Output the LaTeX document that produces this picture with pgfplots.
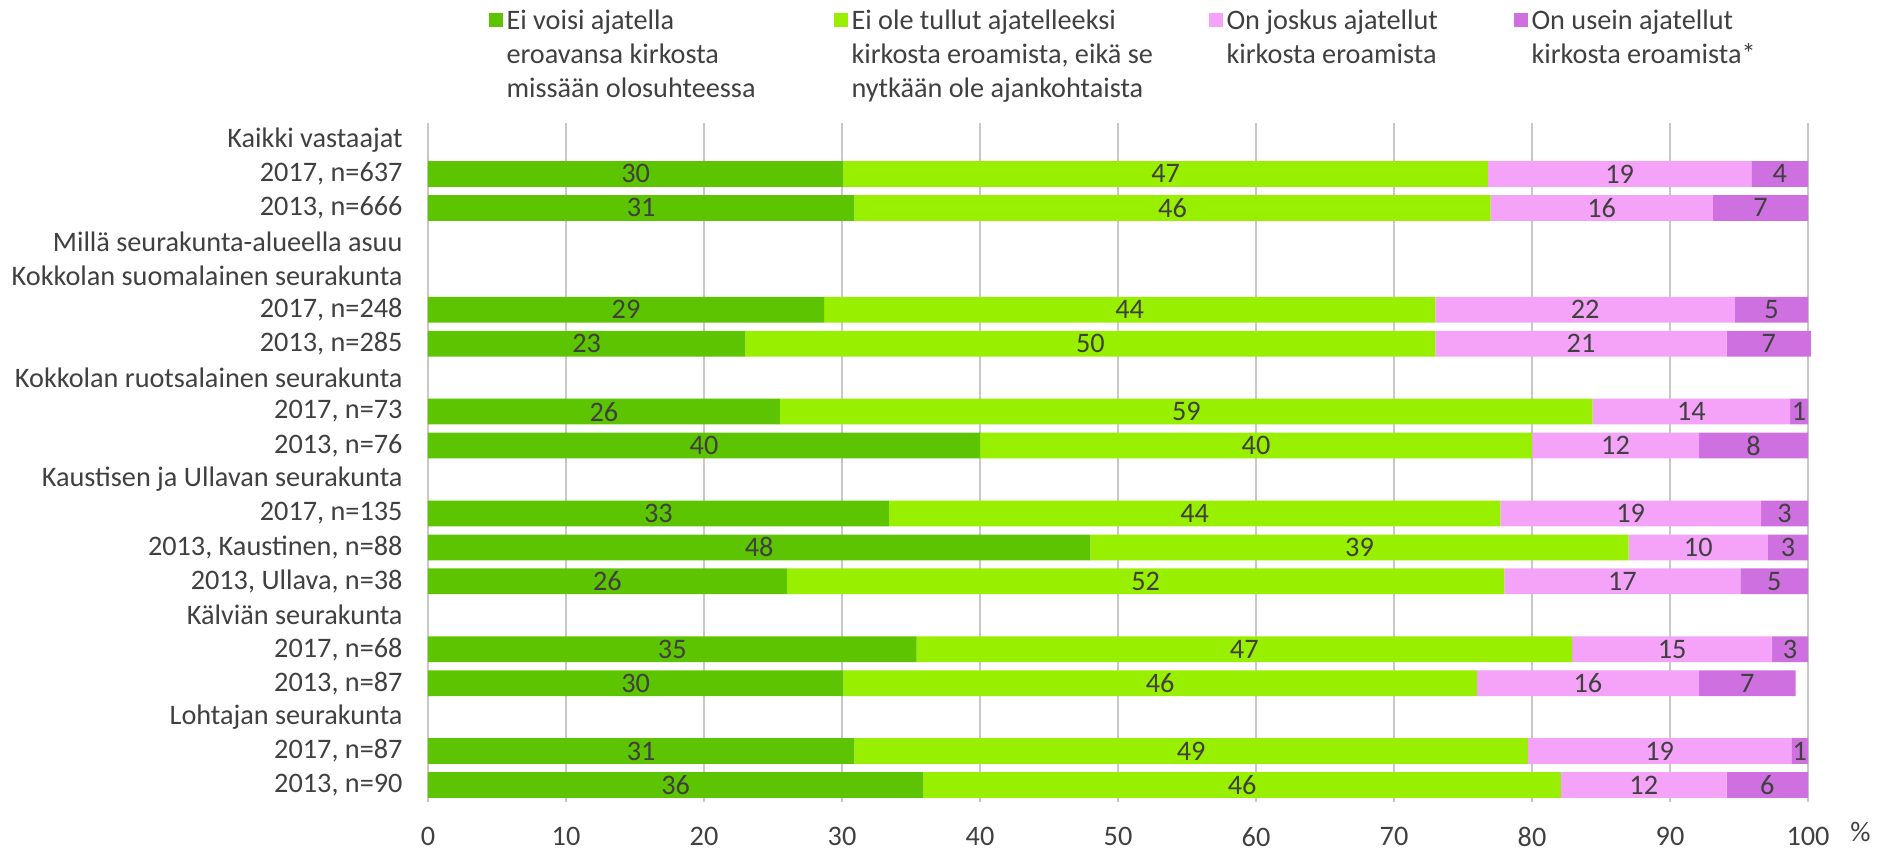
\documentclass[border=0pt]{standalone}
\usepackage{fontspec}
\setmainfont{Carlito}
\usepackage{pgfplots}
\pgfplotsset{compat=1.18}
\definecolor{gA}{HTML}{5CC400}
\definecolor{gB}{HTML}{99EF00}
\definecolor{pA}{HTML}{F4A3F8}
\definecolor{pB}{HTML}{CF70E0}
\definecolor{txt}{HTML}{404040}
\definecolor{gridc}{HTML}{C8C8C8}
\pgfplotsset{frame/.style={
  at={(0,0)}, anchor=south west,
  scale only axis, width=552pt, height=271.6pt,
  xmin=0, xmax=100, ymin=0.5, ymax=20.5, y dir=reverse}}
\begin{document}
\begin{tikzpicture}[font=\fontsize{11.3}{13.6}\selectfont]
\begin{axis}[
  frame,
  xbar stacked, bar width=10.3pt,
  xtick={0,10,...,100}, ytick={1,...,20},
  yticklabels={Kaikki vastaajat, {2017, n=637}, {2013, n=666},
    Millä seurakunta-alueella asuu, Kokkolan suomalainen seurakunta,
    {2017, n=248}, {2013, n=285}, Kokkolan ruotsalainen seurakunta,
    {2017, n=73}, {2013, n=76}, Kaustisen ja Ullavan seurakunta,
    {2017, n=135}, {2013, Kaustinen, n=88}, {2013, Ullava, n=38},
    Kälviän seurakunta, {2017, n=68}, {2013, n=87},
    Lohtajan seurakunta, {2017, n=87}, {2013, n=90}},
  xmajorgrids, major grid style={gridc, line width=0.8pt},
  axis line style={draw=none},
  major tick length=0pt,
  tick label style={text=txt},
  /pgf/number format/assume math mode=true,
  yticklabel style={inner sep=0pt, xshift=-10pt},
  xticklabel style={inner sep=0pt, yshift=-10pt},
  clip=false,
]
\addplot+[fill=gA, draw=none] coordinates {
  (30.1,2) (30.9,3) (28.7,6) (23.0,7) (25.5,9)
  (40.0,10) (33.4,12) (48.0,13) (26.0,14) (35.4,16)
  (30.1,17) (30.9,19) (35.9,20)};
\addplot+[fill=gB, draw=none] coordinates {
  (46.7,2) (46.1,3) (44.3,6) (50.0,7) (58.9,9)
  (40.0,10) (44.3,12) (39.0,13) (52.0,14) (47.5,16)
  (45.9,17) (48.8,19) (46.2,20)};
\addplot+[fill=pA, draw=none] coordinates {
  (19.1,2) (16.1,3) (21.7,6) (21.1,7) (14.3,9)
  (12.1,10) (18.9,12) (10.1,13) (17.1,14) (14.5,16)
  (16.1,17) (19.1,19) (12.0,20)};
\addplot+[fill=pB, draw=none] coordinates {
  (4.1,2) (6.9,3) (5.3,6) (6.1,7) (1.3,9)
  (7.9,10) (3.4,12) (2.9,13) (4.9,14) (2.6,16)
  (7.0,17) (1.2,19) (5.9,20)};
\end{axis}
% data labels, at the middle of each segment
\begin{axis}[frame, hide axis, clip=false]
\addplot[only marks, mark=*, mark size=0pt, mark options={draw=none, fill=none},
  point meta=explicit symbolic, nodes near coords,
  every node near coord/.style={anchor=center, text=txt}] coordinates {
  (15.05,2)[30] (53.45,2)[47] (86.35,2)[19] (97.95,2)[4]
  (15.45,3)[31] (53.95,3)[46] (85.05,3)[16] (96.55,3)[7]
  (14.35,6)[29] (50.85,6)[44] (83.85,6)[22] (97.35,6)[5]
  (11.5,7)[23] (48.0,7)[50] (83.55,7)[21] (97.15,7)[7]
  (12.75,9)[26] (54.95,9)[59] (91.55,9)[14] (99.35,9)[1]
  (20.0,10)[40] (60.0,10)[40] (86.05,10)[12] (96.05,10)[8]
  (16.7,12)[33] (55.55,12)[44] (87.15,12)[19] (98.3,12)[3]
  (24.0,13)[48] (67.5,13)[39] (92.05,13)[10] (98.55,13)[3]
  (13.0,14)[26] (52.0,14)[52] (86.55,14)[17] (97.55,14)[5]
  (17.7,16)[35] (59.15,16)[47] (90.15,16)[15] (98.7,16)[3]
  (15.05,17)[30] (53.05,17)[46] (84.05,17)[16] (95.6,17)[7]
  (15.45,19)[31] (55.3,19)[49] (89.25,19)[19] (99.4,19)[1]
  (17.95,20)[36] (59.0,20)[46] (88.1,20)[12] (97.05,20)[6]};
\end{axis}
% legend
\begin{scope}[every node/.style={anchor=base west, inner sep=0pt, text=txt}]
\fill[gA] (24.2pt,309.8pt) rectangle ++(5.6pt,5.6pt);
\node at (31.2pt,309pt) {Ei voisi ajatella};
\node at (31.2pt,295.4pt) {eroavansa kirkosta};
\node at (31.2pt,281.8pt) {missään olosuhteessa};
\fill[gB] (162.2pt,309.8pt) rectangle ++(5.6pt,5.6pt);
\node at (169.2pt,309pt) {Ei ole tullut ajatelleeksi};
\node at (169.2pt,295.4pt) {kirkosta eroamista, eikä se};
\node at (169.2pt,281.8pt) {nytkään ole ajankohtaista};
\fill[pA] (312.2pt,309.8pt) rectangle ++(5.6pt,5.6pt);
\node at (319.2pt,309pt) {On joskus ajatellut};
\node at (319.2pt,295.4pt) {kirkosta eroamista};
\fill[pB] (434.2pt,309.8pt) rectangle ++(5.6pt,5.6pt);
\node at (441.2pt,309pt) {On usein ajatellut};
\node at (441.2pt,295.4pt) {kirkosta eroamista*};
\end{scope}
\node[text=txt, inner sep=0pt] at (573pt,-12pt) {\%};
\pgfresetboundingbox
\useasboundingbox (-171.2pt,-21.2pt) rectangle (588pt,320.8pt);
\end{tikzpicture}
\end{document}
